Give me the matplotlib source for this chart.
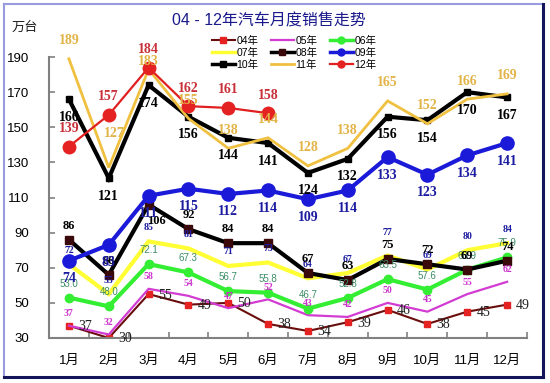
import matplotlib
matplotlib.use("Agg")
import matplotlib.pyplot as plt
from matplotlib.lines import Line2D

months = ["1月", "2月", "3月", "4月", "5月", "6月", "7月", "8月", "9月", "10月", "11月", "12月"]
y04 = [37, 30, 55, 49, 50, 38, 34, 39, 46, 38, 45, 49]
y05 = [37, 32, 58, 54, 47, 52, 43, 42, 50, 45, 55, 62]
y06 = [53.0, 48.0, 72.1, 67.3, 56.7, 55.8, 46.7, 52.8, 63.5, 57.6, 68.9, 75.9]
y07 = [72, 55, 85, 81, 71, 73, 64, 67, 77, 69, 80, 84]
y08 = [86, 66, 106, 92, 84, 84, 67, 63, 75, 72, 69, 74]
y09 = [74, 83, 111, 115, 112, 114, 109, 114, 133, 123, 134, 141]
y10 = [166, 121, 174, 156, 144, 141, 124, 132, 156, 154, 170, 167]
y11 = [189, 127, 183, 155, 138, 144, 128, 138, 165, 152, 166, 169]
y12 = [139, 157, 184, 162, 161, 158]
yticks = [30, 50, 70, 90, 110, 130, 150, 170, 190]
title = "04 - 12年汽车月度销售走势"
unit = "万台"

plt.rcParams['font.family'] = ['Liberation Sans', 'Noto Sans CJK SC', 'DejaVu Sans']

fig = plt.figure(figsize=(5.5, 3.83), dpi=100)
ax = fig.add_axes([49/550, 1-338/383, 478/550, (338-57)/383])

x = list(range(1, 13))

# (name, data, line color, lw, marker, ms, marker color, label color, fontsize, weight, family, offset px, zorder, fmt)
series = [
    ("04年", y04, "#6a0d0d", 1.5, "s", 4.5, "#e52222", "#222222", 10, "normal", "serif", (16, -1), 2, "{:.0f}"),
    ("05年", y05, "#d23cd2", 1.6, None, 0, None, "#cc33cc", 7, "bold", "serif", (0, 12), 3, "{:.0f}"),
    ("06年", y06, "#33ee33", 3.0, "o", 6, "#33ee33", "#3c8c64", 7, "normal", "sans", (0, 14), 4, "{:.1f}"),
    ("07年", y07, "#ffff33", 3.0, None, 0, None, "#1c1ca0", 7, "bold", "serif", (0, 14), 5, "{:.0f}"),
    ("08年", y08, "#000000", 3.0, "s", 6, "#3a0a0a", "#000000", 9, "bold", "serif", (0, 14), 6, "{:.0f}"),
    ("09年", y09, "#1a1ad8", 3.0, "o", 9.5, "#1a1ad8", "#1c1ca0", 10, "bold", "serif", (0, -18), 7, "{:.0f}"),
    ("10年", y10, "#000000", 3.0, "s", 5, "#000000", "#000000", 10, "bold", "serif", (0, -18), 8, "{:.0f}"),
    ("11年", y11, "#f0c040", 2.0, None, 0, None, "#e2b448", 10, "bold", "serif", (0, 18), 9, "{:.0f}"),
    ("12年", y12, "#e02020", 1.6, "o", 9, "#e52222", "#c8303a", 10, "bold", "serif", (0, 18), 10, "{:.0f}"),
]
# individual label nudges (series, month index) -> offset px
label_nudge = {("11年", 1): (6, 34), ("11年", 2): (0, 8), ("08年", 2): (8, -16),
               ("07年", 8): (0, 23)}

handles = {}
for name, ys, col, lw, mk, ms, mcol, lcol, fs, fw, fam, off, z, fmt in series:
    xs = x[:len(ys)]
    ax.plot(xs, ys, color=col, lw=lw, marker=mk, ms=ms, mfc=mcol, mec=mcol,
            zorder=z, solid_joinstyle='miter')
    handles[name] = Line2D([0], [0], color=col, lw=lw if lw < 2.5 else 2.5, marker=mk,
                           ms=min(ms, 5) if mk else 0, mfc=mcol, mec=mcol, label=name)
    family = ['Liberation Serif', 'DejaVu Serif'] if fam == "serif" else ['Liberation Sans']
    for i, (xi, yi) in enumerate(zip(xs, ys)):
        o = label_nudge.get((name, i), off)
        ax.annotate(fmt.format(yi), (xi, yi), xytext=(o[0]*0.72, o[1]*0.72),
                    textcoords='offset points', ha='center', va='center',
                    color=lcol, fontsize=fs, fontweight=fw, family=family,
                    zorder=20, annotation_clip=False)

ax.set_xlim(0.5, 12.5)
ax.set_ylim(30, 190)
ax.set_yticks(yticks)
ax.set_xticks(x)
ax.set_xticklabels(months)
ax.set_xticks([i + 0.5 for i in range(0, 13)], minor=True)
ax.tick_params(axis='x', which='major', length=0, pad=12, labelsize=9.5)
ax.tick_params(axis='x', which='minor', direction='in', length=4, color='#808080', width=1.2)
ax.tick_params(axis='y', direction='in', length=4, color='#808080', width=1.2, labelsize=9.5, pad=14)
for s in ['top', 'right']:
    ax.spines[s].set_visible(False)
for s in ['left', 'bottom']:
    ax.spines[s].set_color('#808080')
    ax.spines[s].set_linewidth(1.5)
ax.patch.set_alpha(0)

fig.text(0.489, 0.945, title, ha='center', va='center', color='#1a1a8c', fontsize=11.5,
         family=['Liberation Sans', 'Noto Sans CJK SC'])
fig.text(0.045, 0.928, unit, ha='center', va='center', color='#222222', fontsize=9.5,
         family=['Noto Sans CJK SC'])

# matplotlib fills legend columns first: reorder so rows read 04 05 06 / 07 08 09 / 10 11 12
order = ["04年", "07年", "10年", "05年", "08年", "11年", "06年", "09年", "12年"]
leg = fig.legend(handles=[handles[k] for k in order], ncol=3, loc='center',
                 bbox_to_anchor=(0.535, 0.862),
                 frameon=False, handlelength=2.2, handletextpad=0.15,
                 columnspacing=1.2, labelspacing=0.2, borderpad=0,
                 prop={'family': ['Liberation Sans', 'Noto Sans CJK SC'], 'size': 7.5})

# outer frame
fig.add_artist(Line2D([4/550, 4/550], [1-4/383, 1-377/383], color='#9a9ae0', lw=1.5, transform=fig.transFigure))
fig.add_artist(Line2D([4/550, 543/550], [1-4/383, 1-4/383], color='#9a9ae0', lw=1.5, transform=fig.transFigure))
fig.add_artist(Line2D([543/550, 543/550], [1-4/383, 1-377/383], color='#14145a', lw=2.2, transform=fig.transFigure))
fig.add_artist(Line2D([4/550, 543/550], [1-377/383, 1-377/383], color='#14145a', lw=2.2, transform=fig.transFigure))

fig.savefig("out.png", dpi=100)
